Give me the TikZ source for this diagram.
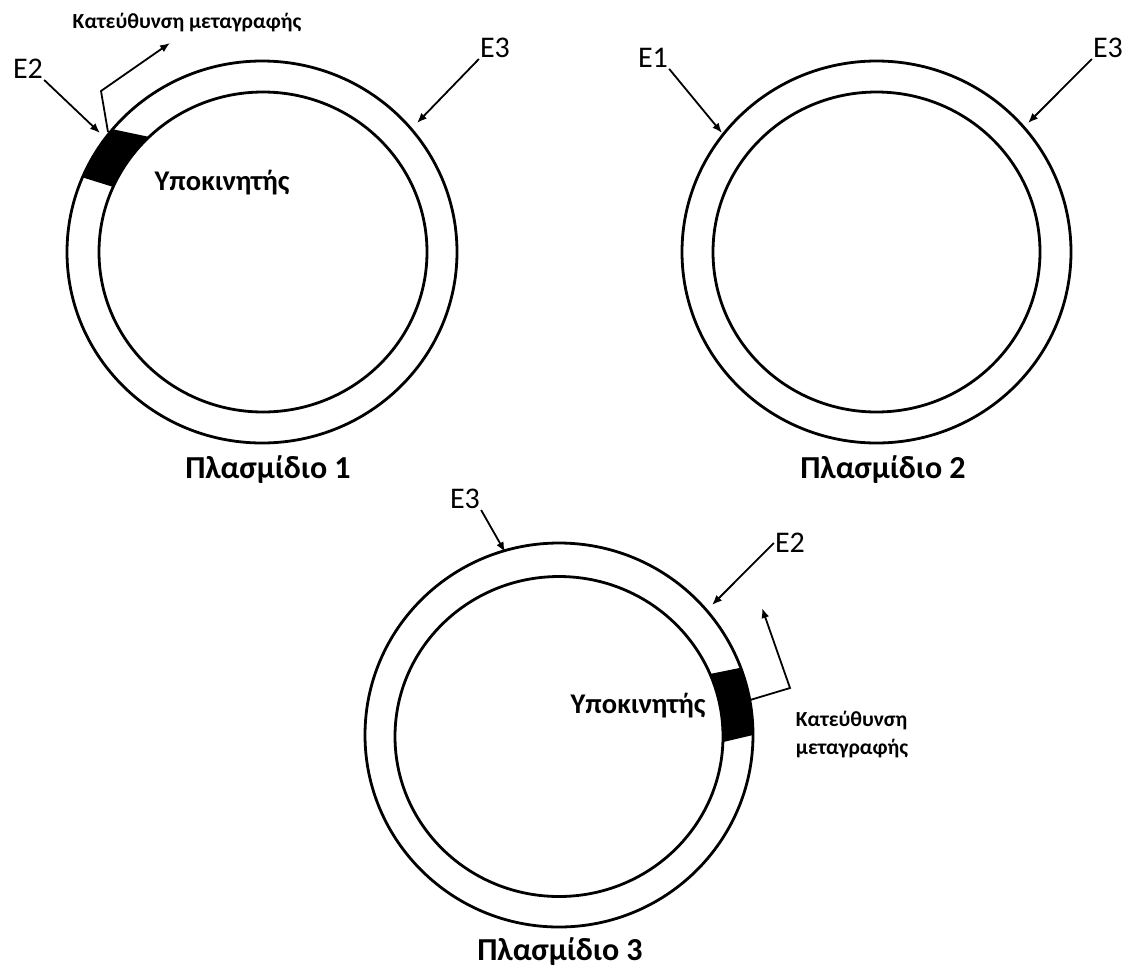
\documentclass[tikz,border=0pt]{standalone}
\usepackage{fontspec}
\setmainfont{Carlito}
\usetikzlibrary{arrows.meta}
\begin{document}
\begin{tikzpicture}[x=1pt,y=-1pt,
  ring/.style={line width=2.8pt},
  arr/.style={line width=1.8pt,-{Latex[length=10pt,width=8pt]}},
  lbl/.style={inner sep=1pt,font=\fontsize{30}{31}\selectfont},
  ttl/.style={inner sep=0pt,font=\fontsize{32}{34}\selectfont\bfseries},
  prom/.style={inner sep=0pt,font=\fontsize{28.5}{30}\selectfont\bfseries},
  dirn/.style={inner sep=0pt,font=\fontsize{21.5}{28}\selectfont\bfseries,align=left},
]
\useasboundingbox (0,0) rectangle (1129,967);

% ---------- Plasmid 1 ----------
\draw[ring] (262,252) ellipse [x radius=195pt, y radius=191pt];
\draw[ring] (263,252) ellipse [x radius=164pt, y radius=160pt];
\fill plot[domain=140:157,samples=20] ({262+195*cos(\x)},{252-191*sin(\x)})
  -- plot[domain=156:134,samples=20] ({263+164*cos(\x)},{252-160*sin(\x)}) -- cycle;
\node[prom] (prom1) at (222,183) {Υποκινητής};
\node[dirn] (dir1) at (187,23) {Κατεύθυνση μεταγραφής};
\coordinate (p1s) at (108,132);
\coordinate (p1c) at (101,91);
\coordinate (p1t) at (170,43);
\draw[arr] (p1s) -- (p1c) -- (p1t);
\node[lbl] (e2a) at (28,69) {E2};
\coordinate (e2at) at (100,133);
\draw[arr] (e2a.south east) -- (e2at);
\node[lbl] (e3a) at (495,48) {E3};
\coordinate (e3at) at (417,123);
\draw[arr] (e3a.south west) -- (e3at);
\node[ttl] (t1) at (268,470) {Πλασμίδιο 1};

% ---------- Plasmid 2 ----------
\draw[ring] (876.5,252) ellipse [x radius=194.5pt, y radius=191pt];
\draw[ring] (876.5,252) ellipse [x radius=163.5pt, y radius=160pt];
\node[lbl] (e1b) at (653,58) {E1};
\coordinate (e1bt) at (722,133);
\draw[arr] (e1b.south east) -- (e1bt);
\node[lbl] (e3b) at (1108,48) {E3};
\coordinate (e3bt) at (1028,123);
\draw[arr] (e3b.south west) -- (e3bt);
\node[ttl] (t2) at (883,470) {Πλασμίδιο 2};

% ---------- Plasmid 3 ----------
\draw[ring] (559,735) ellipse [x radius=194pt, y radius=192pt];
\draw[ring] (559,736.5) ellipse [x radius=164pt, y radius=160pt];
\fill plot[domain=0:20.5,samples=20] ({559+194*cos(\x)},{735-192*sin(\x)})
  -- plot[domain=23:-2,samples=20] ({559+164*cos(\x)},{736.5-160*sin(\x)}) -- cycle;
\node[prom] (prom3) at (638,706) {Υποκινητής};
\node[dirn] (dir3) at (852,735) {Κατεύθυνση\\μεταγραφής};
\coordinate (p3s) at (750,700);
\coordinate (p3c) at (790,688);
\coordinate (p3t) at (762,608);
\draw[arr] (p3s) -- (p3c) -- (p3t);
\node[lbl] (e2c) at (790,543) {E2};
\coordinate (e2ct) at (712,605);
\draw[arr] (e2c.west) -- (e2ct);
\node[lbl] (e3c) at (465,499) {E3};
\coordinate (e3ct) at (505,552);
\draw[arr] (e3c.south east) -- (e3ct);
\node[ttl] (t3) at (560,952) {Πλασμίδιο 3};
\end{tikzpicture}
\end{document}
